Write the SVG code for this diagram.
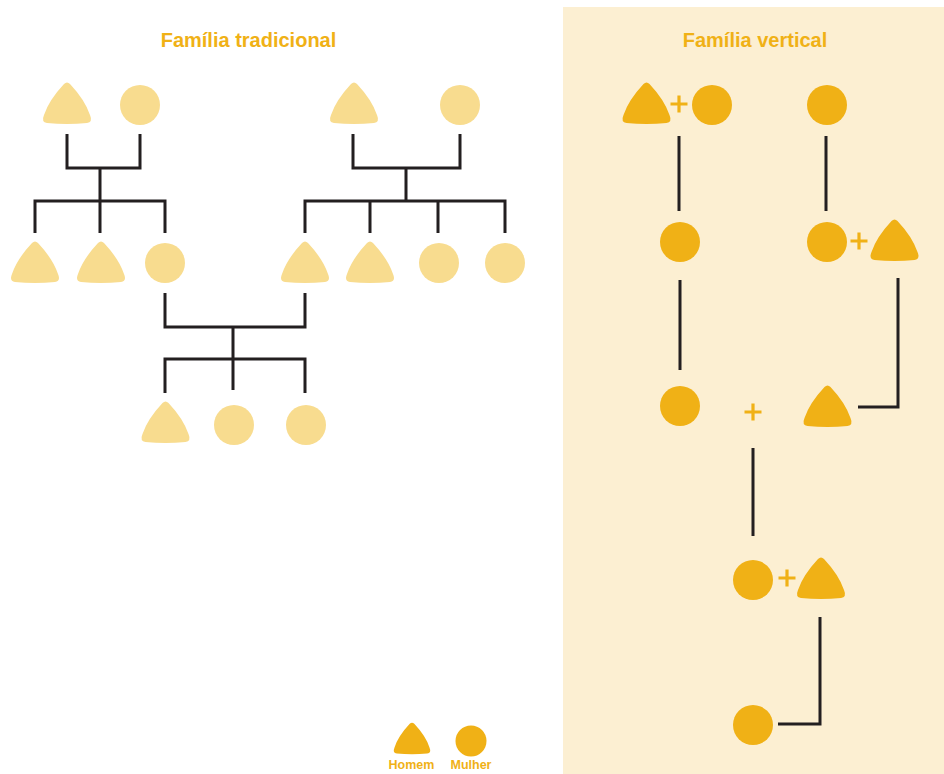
<svg xmlns="http://www.w3.org/2000/svg" xmlns:xlink="http://www.w3.org/1999/xlink" width="944" height="774" viewBox="0 0 944 774">
<defs>
<style>
.title{font-family:"Liberation Sans",Arial,sans-serif;font-weight:bold;font-size:20px;fill:#F0B116;text-anchor:middle}
.leg{font-family:"Liberation Sans",Arial,sans-serif;font-weight:bold;font-size:12.5px;fill:#F0B116;text-anchor:middle}
.light{fill:#F8DC8F}
.dark{fill:#F0B116}
.conn{stroke:#231F20;stroke-width:3;fill:none;stroke-linecap:butt;stroke-linejoin:miter}
.plus{stroke:#F0B116;stroke-width:3.2;fill:none}
</style>
<path id="tri" d="M-3,-41 Q0,-44 3,-41 Q18,-25 23,-10 Q26,-3 20,-2 Q0,0 -20,-2 Q-26,-3 -23,-10 Q-18,-25 -3,-41 Z"/>
<path id="plus" d="M-8.5,0 H8.5 M0,-8.5 V8.5"/>
</defs>
<rect x="0" y="0" width="944" height="774" fill="#FFFFFF"/>
<rect x="563" y="7" width="381" height="767" fill="#FCEFD2"/>
<text class="title" x="248.5" y="47">Família tradicional</text>
<text class="title" x="755" y="47">Família vertical</text>

<g id="connectors">
<path class="conn" d="M67,134 V168 H140 V134 M100,168 V201 M35,233 V201 H165 V233 M100,201 V233"/>
<path class="conn" d="M353,134 V168 H460 V134 M406,168 V201 M305,233 V201 H505 V233 M370,201 V233 M438,201 V233"/>
<path class="conn" d="M165,293 V327 H305 V293 M233,327 V359 M165,393 V359 H305 V393 M233,359 V390"/>
<path class="conn" d="M679,136 V211 M826,136 V211 M680,280 V370 M858,407 H898 V278 M753,448 V536 M778,724 H820 V617"/>
</g>

<g id="trad-gp1-man"><use xlink:href="#tri" class="light" x="67" y="125"/></g>
<g id="trad-gp1-woman"><circle class="light" cx="140" cy="105" r="20"/></g>
<g id="trad-gp2-man"><use xlink:href="#tri" class="light" x="354" y="125"/></g>
<g id="trad-gp2-woman"><circle class="light" cx="460" cy="105" r="20"/></g>

<g id="trad-c1-man1"><use xlink:href="#tri" class="light" x="35" y="284"/></g>
<g id="trad-c1-man2"><use xlink:href="#tri" class="light" x="101" y="284"/></g>
<g id="trad-c1-woman"><circle class="light" cx="165" cy="263" r="20"/></g>
<g id="trad-c2-man1"><use xlink:href="#tri" class="light" x="305" y="284"/></g>
<g id="trad-c2-man2"><use xlink:href="#tri" class="light" x="370" y="284"/></g>
<g id="trad-c2-woman1"><circle class="light" cx="439" cy="263" r="20"/></g>
<g id="trad-c2-woman2"><circle class="light" cx="505" cy="263" r="20"/></g>

<g id="trad-g3-man"><use xlink:href="#tri" class="light" x="165.5" y="444"/></g>
<g id="trad-g3-woman1"><circle class="light" cx="234" cy="425" r="20"/></g>
<g id="trad-g3-woman2"><circle class="light" cx="306" cy="425" r="20"/></g>

<g id="vert-couple1">
<use xlink:href="#tri" class="dark" x="646.5" y="125"/>
<use xlink:href="#plus" class="plus" x="679" y="104"/>
<circle class="dark" cx="712" cy="105" r="20"/>
</g>
<g id="vert-woman1"><circle class="dark" cx="827" cy="105" r="20"/></g>
<g id="vert-woman2"><circle class="dark" cx="680" cy="242" r="20"/></g>
<g id="vert-couple2">
<circle class="dark" cx="827" cy="242" r="20"/>
<use xlink:href="#plus" class="plus" x="859" y="241"/>
<use xlink:href="#tri" class="dark" x="894.5" y="262"/>
</g>
<g id="vert-couple3">
<circle class="dark" cx="680" cy="406" r="20"/>
<use xlink:href="#plus" class="plus" x="753" y="412"/>
<use xlink:href="#tri" class="dark" x="827.5" y="428"/>
</g>
<g id="vert-couple4">
<circle class="dark" cx="753" cy="580" r="20"/>
<use xlink:href="#plus" class="plus" x="787" y="578"/>
<use xlink:href="#tri" class="dark" x="821" y="600"/>
</g>
<g id="vert-woman3"><circle class="dark" cx="753" cy="725" r="20"/></g>

<g id="legend-homem">
<use xlink:href="#tri" class="dark" transform="translate(412,755) scale(0.76)"/>
<text class="leg" x="411.5" y="769">Homem</text>
</g>
<g id="legend-mulher">
<circle class="dark" cx="471" cy="741" r="15.5"/>
<text class="leg" x="471" y="769">Mulher</text>
</g>
</svg>
